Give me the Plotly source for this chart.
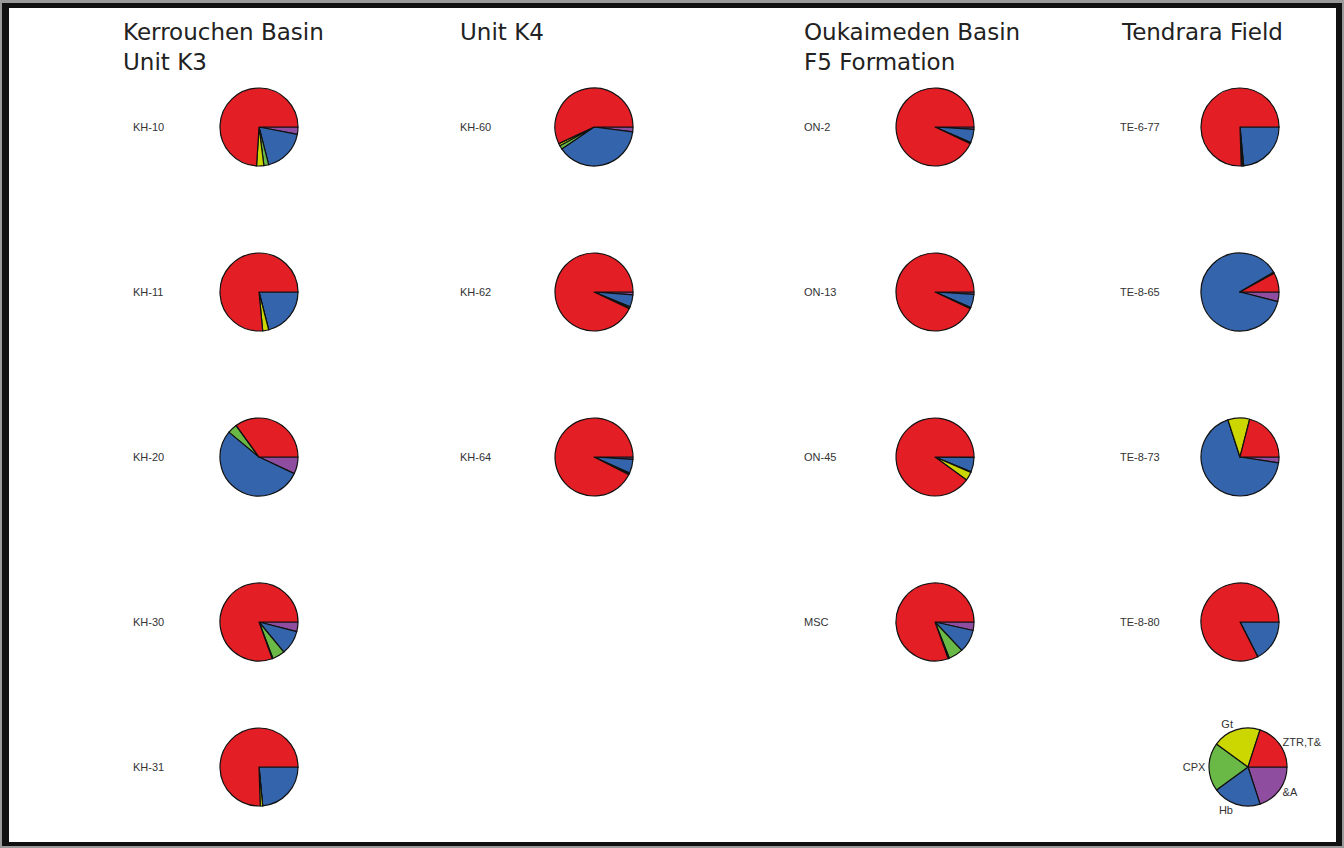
import plotly.graph_objects as go

W, H = 1344, 848

minerals = ["ZTR,T&", "Gt", "CPX", "Hb", "&A"]
colors = ["#E41E25", "#CCD600", "#6AB845", "#3464AC", "#8E4D9E"]

# sample names and compositions (% : ZTR,T&, Gt, CPX, Hb, &A)
k3_samples = ["KH-10", "KH-11", "KH-20", "KH-30", "KH-31"]
k3_values = [
    [74.0, 3.0, 2.0, 18.0, 3.0],
    [76.5, 2.5, 0.0, 21.0, 0.0],
    [35.0, 0.0, 4.0, 54.0, 7.0],
    [80.5, 0.3, 5.2, 10.0, 4.0],
    [75.5, 1.0, 0.0, 23.5, 0.0],
]
k4_samples = ["KH-60", "KH-62", "KH-64"]
k4_values = [
    [57.0, 1.0, 1.5, 38.5, 2.0],
    [93.0, 0.3, 0.5, 5.0, 1.2],
    [92.5, 0.3, 0.5, 5.7, 1.0],
]
f5_samples = ["ON-2", "ON-13", "ON-45", "MSC"]
f5_values = [
    [93.0, 0.2, 0.3, 5.5, 1.0],
    [93.0, 0.2, 0.3, 5.5, 1.0],
    [90.0, 3.5, 0.3, 6.0, 0.2],
    [80.5, 0.5, 6.0, 9.5, 3.5],
]
te_samples = ["TE-6-77", "TE-8-65", "TE-8-73", "TE-8-80"]
te_values = [
    [75.5, 0.5, 0.5, 23.5, 0.0],
    [8.0, 0.3, 0.2, 87.5, 4.0],
    [21.0, 9.0, 0.0, 67.6, 2.4],
    [82.5, 0.0, 0.0, 17.5, 0.0],
]
legend_values = [20, 20, 20, 20, 20]

titles = ["Kerrouchen Basin<br>Unit K3", "Unit K4", "Oukaimeden Basin<br>F5 Formation", "Tendrara Field"]

groups = [
    (k3_samples, k3_values, 259, 131, 121, titles[0]),
    (k4_samples, k4_values, 594, 458, 458, titles[1]),
    (f5_samples, f5_values, 935, 802, 802, titles[2]),
    (te_samples, te_values, 1240, 1118, 1119, titles[3]),
]
row_y = [127, 292, 457, 622, 767]
R = 39

fig = go.Figure()
annotations = []


def dom(cx, cy, r):
    return dict(x=[(cx - r) / W, (cx + r) / W], y=[1 - (cy + r) / H, 1 - (cy - r) / H])


def pie(vals, domain, **kw):
    # counter-clockwise from 3 o'clock == clockwise with reversed order
    return go.Pie(
        labels=minerals[::-1], values=list(vals)[::-1], sort=False,
        direction="clockwise", rotation=90,
        marker=dict(colors=colors[::-1], line=dict(color="#111111", width=1.2)),
        domain=domain, showlegend=False, **kw,
    )


for samples, values, cx, lx, tx, title in groups:
    for i, (name, vals) in enumerate(zip(samples, values)):
        cy = row_y[i]
        fig.add_trace(pie(vals, dom(cx, cy, R), textinfo="none",
                          hoverinfo="label+percent", name=name))
        annotations.append(dict(
            x=lx / W, y=1 - cy / H, xref="paper", yref="paper", text=name,
            showarrow=False, xanchor="left", yanchor="middle",
            font=dict(family="Liberation Sans, Arial", size=11, color="#333333"),
        ))
    annotations.append(dict(
        x=tx / W, y=1 - 17 / H, xref="paper", yref="paper", text=title,
        showarrow=False, xanchor="left", yanchor="top", align="left",
        font=dict(family="DejaVu Sans", size=23, color="#222222"),
    ))

# key pie
fig.add_trace(pie(legend_values, dom(1248, 767, R), textinfo="label",
                  textposition="outside", automargin=False,
                  textfont=dict(family="Liberation Sans, Arial", size=11, color="#333333")))

shapes = [
    dict(type="rect", xref="paper", yref="paper", x0=0, x1=1, y0=0, y1=1,
         line=dict(width=0), fillcolor="#9a9a9a", layer="below"),
    dict(type="rect", xref="paper", yref="paper", x0=2 / W, x1=1 - 2 / W, y0=2 / H, y1=1 - 3 / H,
         line=dict(width=0), fillcolor="#111111", layer="below"),
    dict(type="rect", xref="paper", yref="paper", x0=9 / W, x1=1 - 8 / W, y0=6 / H, y1=1 - 8 / H,
         line=dict(width=0), fillcolor="#ffffff", layer="below"),
]

fig.update_layout(
    width=W, height=H, margin=dict(l=0, r=0, t=0, b=0),
    paper_bgcolor="white", plot_bgcolor="white",
    annotations=annotations, shapes=shapes,
)

fig.write_html("out.html")
